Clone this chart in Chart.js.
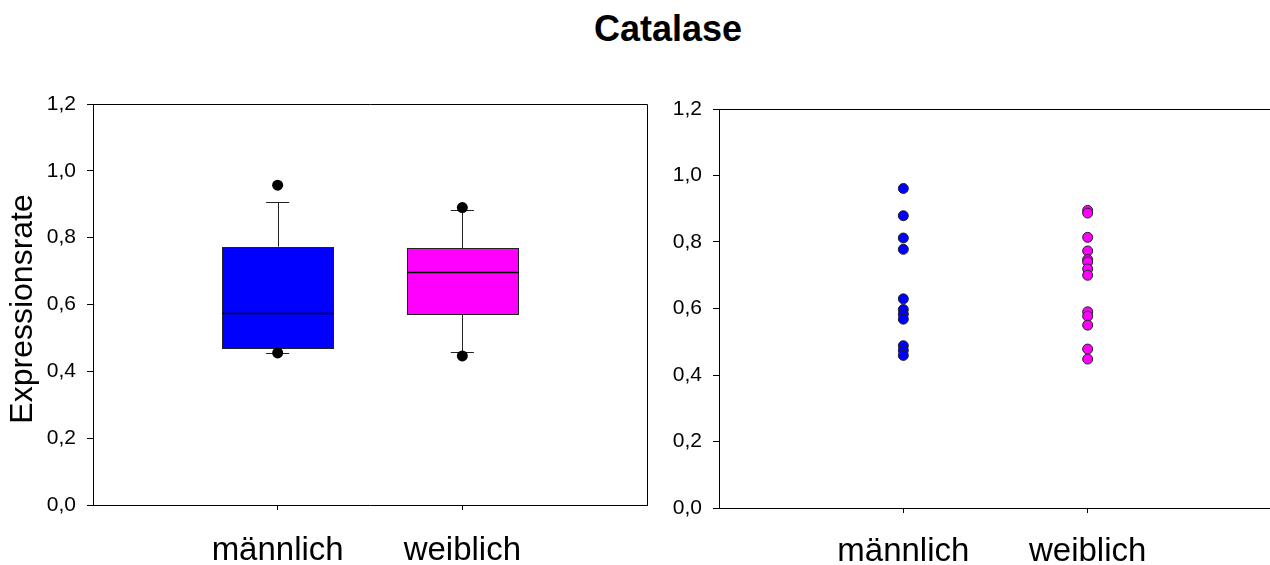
<!DOCTYPE html>
<html>
<head>
<meta charset="utf-8">
<script src="https://cdn.jsdelivr.net/npm/chart.js@4.4.1/dist/chart.umd.min.js"></script>
<style>
  html, body { margin: 0; padding: 0; background: #fff; overflow: hidden; }
  #page { position: relative; width: 1270px; height: 565px; overflow: hidden; }
  #title {
    position: absolute; left: 33px; top: 11px; width: 1270px;
    text-align: center; color: #000;
    font: bold 36px "Liberation Sans", Arial, sans-serif; line-height: 36px;
  }
  canvas { position: absolute; top: 0; }
  #boxCanvas { left: 0; }
  #dotCanvas { left: 626px; }
</style>
</head>
<body>
<div id="page">
  <div id="title">Catalase</div>
  <canvas id="boxCanvas" width="700" height="565"></canvas>
  <canvas id="dotCanvas" width="700" height="565"></canvas>
</div>
<script>
// Groups on the x axis and their positions
const categories = ['männlich', 'weiblich'];
const categoryPositions = [1, 2];
const yTickValues = [0, 0.2, 0.4, 0.6, 0.8, 1.0, 1.2];

// Box plot summary per group (männlich, weiblich)
const whiskerLow  = [0.456, 0.459];
const quartile1   = [0.472, 0.569];
const median      = [0.575, 0.697];
const quartile3   = [0.773, 0.768];
const whiskerHigh = [0.906, 0.883];
const outliersMale   = [0.957, 0.455];
const outliersFemale = [0.890, 0.446];

// Individual expression rates
const valuesMale   = [0.961, 0.879, 0.812, 0.778, 0.629, 0.597, 0.583, 0.568, 0.488, 0.474, 0.459];
const valuesFemale = [0.895, 0.887, 0.814, 0.773, 0.747, 0.740, 0.719, 0.700, 0.590, 0.577, 0.550, 0.478, 0.448];

const seriesColors = ['#0000ff', '#ff00ff'];
const FONT = '"Liberation Sans", Arial, sans-serif';

Chart.defaults.font.family = FONT;
Chart.defaults.color = '#000';

const crisp = v => Math.round(v) + 0.5;

// Top and right edges of the plot frame
const framePlugin = {
  id: 'frame',
  afterDraw(chart) {
    const { ctx, chartArea: a } = chart;
    ctx.save();
    ctx.strokeStyle = '#000';
    ctx.lineWidth = 1;
    ctx.beginPath();
    ctx.moveTo(crisp(a.left), crisp(a.top));
    ctx.lineTo(crisp(a.right), crisp(a.top));
    ctx.lineTo(crisp(a.right), crisp(a.bottom));
    ctx.stroke();
    ctx.restore();
  }
};

// Boxes, medians and whiskers drawn through the chart's scales
const boxPlugin = {
  id: 'boxes',
  beforeDatasetsDraw(chart) {
    const { ctx, scales: { x, y } } = chart;
    const halfBox = 0.3, halfCap = 0.0625;
    ctx.save();
    categoryPositions.forEach((pos, i) => {
      const xl = x.getPixelForValue(pos - halfBox);
      const xr = x.getPixelForValue(pos + halfBox);
      const xc = crisp(x.getPixelForValue(pos));
      const cl = x.getPixelForValue(pos - halfCap);
      const cr = x.getPixelForValue(pos + halfCap);
      const yq1 = y.getPixelForValue(quartile1[i]);
      const yq3 = y.getPixelForValue(quartile3[i]);
      const ym = crisp(y.getPixelForValue(median[i]));
      const ylo = crisp(y.getPixelForValue(whiskerLow[i]));
      const yhi = crisp(y.getPixelForValue(whiskerHigh[i]));

      // whiskers and caps
      ctx.strokeStyle = '#222';
      ctx.lineWidth = 1;
      ctx.beginPath();
      ctx.moveTo(xc, yq3); ctx.lineTo(xc, yhi);
      ctx.moveTo(cl, yhi); ctx.lineTo(cr, yhi);
      ctx.moveTo(xc, yq1); ctx.lineTo(xc, ylo);
      ctx.moveTo(cl, ylo); ctx.lineTo(cr, ylo);
      ctx.stroke();

      // box
      const bx = crisp(xl), by = crisp(yq3);
      const bw = Math.round(xr - xl), bh = Math.round(yq1 - yq3);
      ctx.fillStyle = seriesColors[i];
      ctx.fillRect(bx, by, bw, bh);
      ctx.strokeStyle = '#222';
      ctx.strokeRect(bx, by, bw, bh);

      // median
      ctx.strokeStyle = '#000';
      ctx.lineWidth = 1.5;
      ctx.beginPath();
      ctx.moveTo(bx, ym); ctx.lineTo(bx + bw, ym);
      ctx.stroke();
    });
    ctx.restore();
  }
};

function yScale(withTitle) {
  return {
    type: 'linear', min: 0, max: 1.2,
    afterBuildTicks: s => { s.ticks = yTickValues.map(v => ({ value: v })); },
    afterFit: s => { s.width = 93; },
    ticks: {
      padding: 11, color: '#000', font: { size: 21 },
      callback: v => Number(v).toFixed(1).replace('.', ',')
    },
    grid: { drawOnChartArea: false, tickLength: 6, color: '#000', tickWidth: 1 },
    border: { color: '#000', width: 1 },
    title: withTitle
      ? { display: true, text: 'Expressionsrate ', color: '#000',
          font: { size: 32, lineHeight: 1.2 }, padding: { top: 4, bottom: 0 } }
      : { display: false }
  };
}

function xScale(height, pad) {
  return {
    type: 'linear', min: 0, max: 3,
    afterBuildTicks: s => { s.ticks = categoryPositions.map(v => ({ value: v })); },
    afterFit: s => { s.height = height; },
    ticks: {
      padding: pad, color: '#000', font: { size: 33 }, maxRotation: 0, autoSkip: false,
      callback: (v, i) => categories[i]
    },
    grid: { drawOnChartArea: false, tickLength: 5, color: '#000', tickWidth: 1 },
    border: { color: '#000', width: 1 }
  };
}

const baseOptions = {
  responsive: false,
  animation: false,
  devicePixelRatio: 1,
  plugins: { legend: { display: false }, tooltip: { enabled: false } }
};

// Left panel: box plot with outlier points
const outlierPoints = [
  ...outliersMale.map(v => ({ x: categoryPositions[0], y: v })),
  ...outliersFemale.map(v => ({ x: categoryPositions[1], y: v }))
];

new Chart(document.getElementById('boxCanvas'), {
  type: 'scatter',
  data: {
    datasets: [{
      data: outlierPoints,
      pointRadius: 5.5, pointBackgroundColor: '#000', pointBorderColor: '#000', pointBorderWidth: 0
    }]
  },
  options: {
    ...baseOptions,
    layout: { padding: { top: 104, right: 53, bottom: 0, left: 0 } },
    scales: { x: xScale(60, 21), y: yScale(true) }
  },
  plugins: [boxPlugin, framePlugin]
});

// Right panel: individual values per group
new Chart(document.getElementById('dotCanvas'), {
  type: 'scatter',
  data: {
    datasets: [
      {
        data: valuesMale.map(v => ({ x: categoryPositions[0], y: v })),
        pointRadius: 5, pointBackgroundColor: seriesColors[0],
        pointBorderColor: '#222', pointBorderWidth: 1
      },
      {
        data: valuesFemale.map(v => ({ x: categoryPositions[1], y: v })),
        pointRadius: 5, pointBackgroundColor: seriesColors[1],
        pointBorderColor: '#222', pointBorderWidth: 1
      }
    ]
  },
  options: {
    ...baseOptions,
    layout: { padding: { top: 109, right: 54, bottom: 0, left: 0 } },
    scales: { x: xScale(57, 19), y: yScale(false) }
  },
  plugins: [framePlugin]
});
</script>
</body>
</html>
